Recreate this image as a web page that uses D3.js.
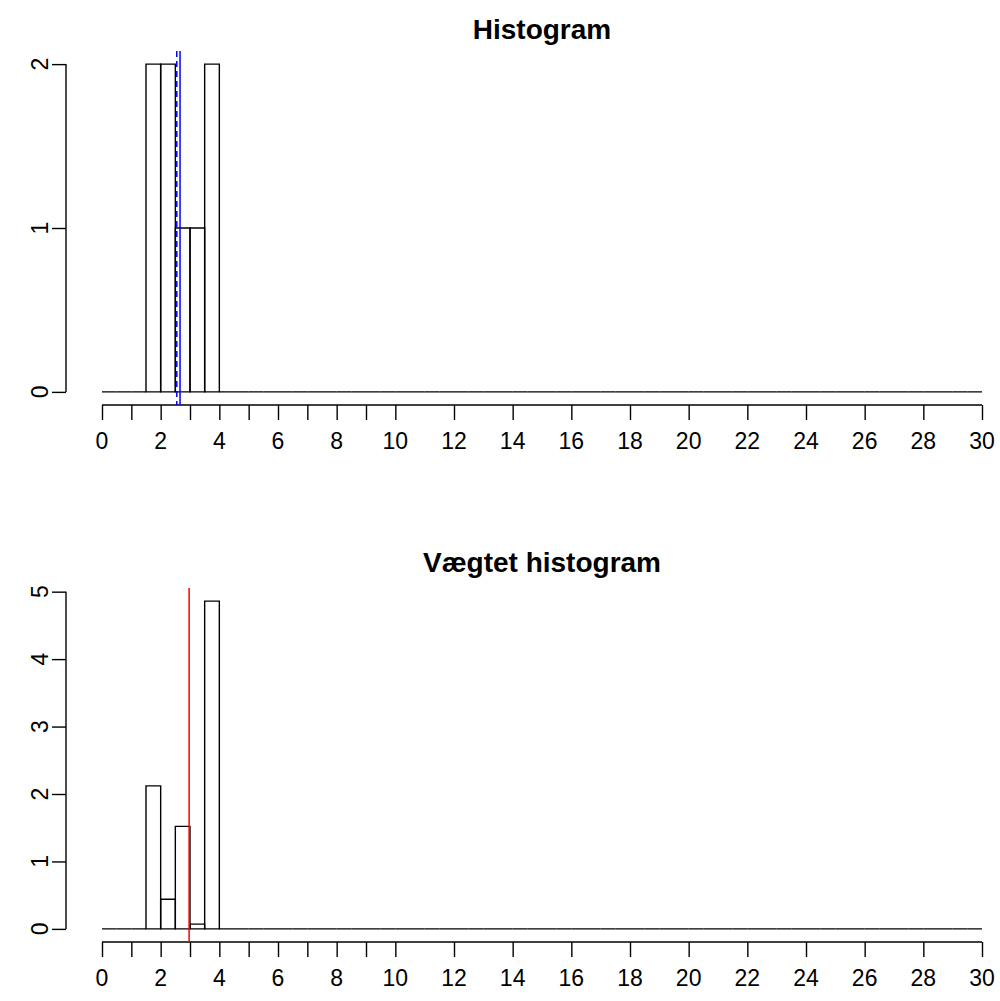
<!DOCTYPE html>
<html>
<head>
<meta charset="utf-8">
<script src="https://cdn.jsdelivr.net/npm/d3@7"></script>
<style>
  body { margin: 0; background: #fff; }
  svg { display: block; font-family: "Liberation Sans", Arial, sans-serif; }
</style>
</head>
<body>
<div id="chart"></div>
<script>
// histogram data (bins of width 0.5, 0..30, only non-empty bins listed)
let binWidth = 0.5;
let xDomain = [0, 30];
let filledBins = [1.5, 2, 2.5, 3, 3.5];       // left edge of the non-empty bins
let counts = [2, 2, 1, 1, 2];                  // top panel
let weightedCounts = [2.12, 0.44, 1.52, 0.07, 4.86]; // bottom panel

let xTicks = [0, 1, 2, 3, 4, 5, 6, 7, 8, 9, 10, 12, 14, 16, 18, 20, 22, 24, 26, 28, 30];
let xLabels = [0, 2, 4, 6, 8, 10, 12, 14, 16, 18, 20, 22, 24, 26, 28, 30];
let yTicksTop = [0, 1, 2];
let yTicksBottom = [0, 1, 2, 3, 4, 5];

// reference lines
let meanTop = 2.66, medianTop = 2.55;  // blue solid / blue dashed
let meanBottom = 2.97;                 // red

let titles = ["Histogram", "Vægtet histogram"];

let w = 1000, h = 1001;

let svg = d3.select("#chart").append("svg")
  .attr("width", w).attr("height", h);

// full set of bins, empty ones get 0
function allBins(values) {
  let out = [];
  let n = Math.round((xDomain[1] - xDomain[0]) / binWidth);
  for (let i = 0; i < n; i++) {
    let x0 = xDomain[0] + i * binWidth;
    let k = filledBins.indexOf(x0);
    out.push({ x0: x0, x1: x0 + binWidth, v: k >= 0 ? values[k] : 0 });
  }
  return out;
}

let x = d3.scaleLinear().domain(xDomain).range([102, 982]);

function panel(opt) {
  let g = svg.append("g");
  // y scale: 0..max with R's 4% padding
  let ymax = d3.max(opt.values);
  let pad = ymax * 0.04;
  let y = d3.scaleLinear().domain([-pad, ymax + pad]).range([opt.bottom, opt.top]);

  // bars
  g.selectAll("path.bar")
    .data(allBins(opt.values))
    .enter().append("path")
    .attr("class", "bar")
    .attr("d", d => "M" + x(d.x0) + "," + y(0) + "V" + y(d.v) + "H" + x(d.x1) + "V" + y(0) + "Z")
    .attr("fill", "none")
    .attr("stroke", "#000")
    .attr("stroke-width", 1.4);

  // x axis (drawn at the bottom of the plot region)
  let xa = g.append("g").attr("transform", "translate(0," + opt.bottom + ")")
    .call(d3.axisBottom(x).tickValues(xTicks).tickSize(15).tickSizeOuter(0).tickFormat(""));
  xa.selectAll("path, line").attr("stroke", "#000").attr("stroke-width", 1.4);
  xa.select(".domain").attr("d", "M" + x(xTicks[0]) + ",0H" + x(xTicks[xTicks.length - 1]));
  g.selectAll("text.xl").data(xLabels).enter().append("text")
    .attr("class", "xl")
    .attr("x", d => x(d)).attr("y", opt.bottom + 44)
    .attr("text-anchor", "middle")
    .attr("font-size", 23)
    .text(d => d);

  // y axis
  let ya = g.append("g").attr("transform", "translate(66,0)")
    .call(d3.axisLeft(y).tickValues(opt.yTicks).tickSize(14).tickSizeOuter(0).tickFormat(""));
  ya.selectAll("path, line").attr("stroke", "#000").attr("stroke-width", 1.4);
  ya.select(".domain").attr("d", "M0," + y(opt.yTicks[0]) + "V" + y(opt.yTicks[opt.yTicks.length - 1]));
  g.selectAll("text.yl").data(opt.yTicks).enter().append("text")
    .attr("class", "yl")
    .attr("transform", d => "translate(48," + y(d) + ") rotate(-90)")
    .attr("text-anchor", "middle")
    .attr("font-size", 23)
    .text(d => d);

  // vertical reference lines
  opt.lines.forEach(l => {
    g.append("line")
      .attr("x1", x(l.v)).attr("x2", x(l.v))
      .attr("y1", opt.top).attr("y2", opt.bottom)
      .attr("stroke", l.color)
      .attr("stroke-width", 1.5)
      .attr("stroke-dasharray", l.dash || null);
  });

  // title
  g.append("text")
    .attr("x", 542).attr("y", opt.titleY)
    .attr("text-anchor", "middle")
    .attr("font-size", 28)
    .attr("font-weight", "bold")
    .text(opt.title);
}

panel({
  values: counts, top: 51, bottom: 405, yTicks: yTicksTop,
  title: titles[0], titleY: 39,
  lines: [{ v: medianTop, color: "blue", dash: "6,4" }, { v: meanTop, color: "blue" }]
});

panel({
  values: weightedCounts, top: 588, bottom: 942, yTicks: yTicksBottom,
  title: titles[1], titleY: 572,
  lines: [{ v: meanBottom, color: "red" }]
});
</script>
</body>
</html>
